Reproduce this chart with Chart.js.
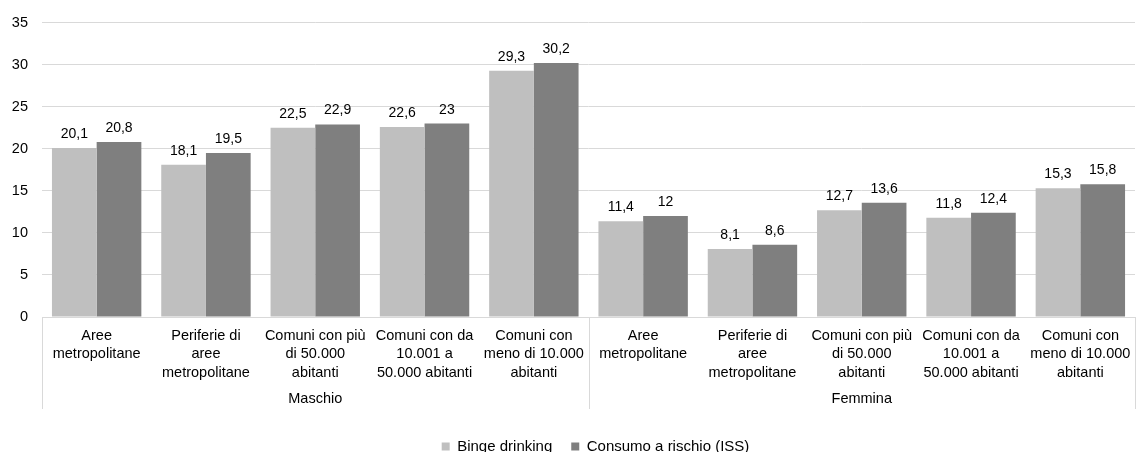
<!DOCTYPE html>
<html>
<head>
<meta charset="utf-8">
<script src="https://cdn.jsdelivr.net/npm/chart.js@4.4.1/dist/chart.umd.min.js"></script>
<style>
html,body{margin:0;padding:0;background:#fff;}
#wrap{width:1137px;height:452px;}
</style>
</head>
<body>
<div id="wrap"><canvas id="c" width="1137" height="452"></canvas></div>
<script>
const categories = [
  ["Aree", "metropolitane"],
  ["Periferie di", "aree", "metropolitane"],
  ["Comuni con più", "di 50.000", "abitanti"],
  ["Comuni con da", "10.001 a", "50.000 abitanti"],
  ["Comuni con", "meno di 10.000", "abitanti"],
  ["Aree", "metropolitane"],
  ["Periferie di", "aree", "metropolitane"],
  ["Comuni con più", "di 50.000", "abitanti"],
  ["Comuni con da", "10.001 a", "50.000 abitanti"],
  ["Comuni con", "meno di 10.000", "abitanti"]
];
const groups = ["Maschio", "Femmina"];
const groupSize = 5;
const bingeDrinking = [20.1, 18.1, 22.5, 22.6, 29.3, 11.4, 8.1, 12.7, 11.8, 15.3];
const consumoRischio = [20.8, 19.5, 22.9, 23, 30.2, 12, 8.6, 13.6, 12.4, 15.8];
const seriesNames = ["Binge drinking", "Consumo a rischio (ISS)"];
const yTicks = [0, 5, 10, 15, 20, 25, 30, 35];

const FONT = "'Liberation Sans', Arial, sans-serif";
const TEXT = "#000000";
const AXIS_FS = 14.5;

const dataLabels = {
  id: 'dataLabels',
  afterDatasetsDraw(chart) {
    const ctx = chart.ctx;
    ctx.save();
    ctx.font = "14px " + FONT;
    ctx.fillStyle = "#000";
    ctx.textAlign = "center";
    ctx.textBaseline = "alphabetic";
    chart.data.datasets.forEach((ds, di) => {
      const meta = chart.getDatasetMeta(di);
      meta.data.forEach((bar, i) => {
        const v = ds.data[i];
        ctx.fillText(String(v).replace('.', ','), bar.x, bar.y - 10);
      });
    });
    ctx.restore();
  }
};

const groupAxis = {
  id: 'groupAxis',
  afterLayout(chart) {
    const l = chart.legend;
    if (l) { l.left += 28; l.right += 28; }
  },
  afterDraw(chart) {
    const ctx = chart.ctx;
    const x = chart.scales.x;
    const n = categories.length;
    const step = (x.right - x.left) / n;
    ctx.save();
    ctx.strokeStyle = "#d9d9d9";
    ctx.lineWidth = 1;
    for (let g = 0; g <= groups.length; g++) {
      const px = Math.round(x.left + g * groupSize * step) + 0.5;
      ctx.beginPath();
      ctx.moveTo(px, x.top);
      ctx.lineTo(px, x.top + 92);
      ctx.stroke();
    }
    ctx.font = AXIS_FS + "px " + FONT;
    ctx.fillStyle = TEXT;
    ctx.textAlign = "center";
    ctx.textBaseline = "middle";
    groups.forEach((g, gi) => {
      const cx = x.left + (gi * groupSize + groupSize / 2) * step;
      ctx.fillText(g, cx, x.top + 82);
    });
    ctx.restore();
  }
};

new Chart(document.getElementById('c'), {
  type: 'bar',
  data: {
    labels: categories,
    datasets: [
      { label: seriesNames[0], data: bingeDrinking, backgroundColor: '#bfbfbf', borderWidth: 0 },
      { label: seriesNames[1], data: consumoRischio, backgroundColor: '#7f7f7f', borderWidth: 0 }
    ]
  },
  options: {
    responsive: false,
    animation: false,
    devicePixelRatio: 1,
    layout: { padding: { top: 13, right: 2, left: 0, bottom: -12 } },
    datasets: { bar: { categoryPercentage: 0.818, barPercentage: 1.0 } },
    plugins: {
      legend: {
        position: 'bottom',
        labels: {
          font: { family: FONT, size: 15 },
          color: TEXT,
          boxWidth: 8,
          boxHeight: 8,
          padding: 19
        }
      },
      tooltip: { enabled: false }
    },
    scales: {
      x: {
        grid: { display: false, drawTicks: false },
        border: { display: true, color: '#d9d9d9' },
        ticks: {
          font: { family: FONT, size: AXIS_FS, lineHeight: 1.26 },
          color: TEXT,
          maxRotation: 0,
          minRotation: 0,
          autoSkip: false,
          padding: 10
        },
        afterFit(scale) {
          scale.height = 103;
          scale.paddingRight = 0;
          scale.paddingLeft = 0;
        }
      },
      y: {
        min: 0,
        max: 35,
        afterBuildTicks(scale) { scale.ticks = yTicks.map(v => ({ value: v })); },
        grid: { color: '#d9d9d9', drawTicks: false },
        border: { display: false },
        ticks: {
          font: { family: FONT, size: AXIS_FS },
          color: TEXT,
          padding: 14
        },
        afterFit(scale) { scale.width = 42; }
      }
    }
  },
  plugins: [dataLabels, groupAxis]
});
</script>
</body>
</html>
